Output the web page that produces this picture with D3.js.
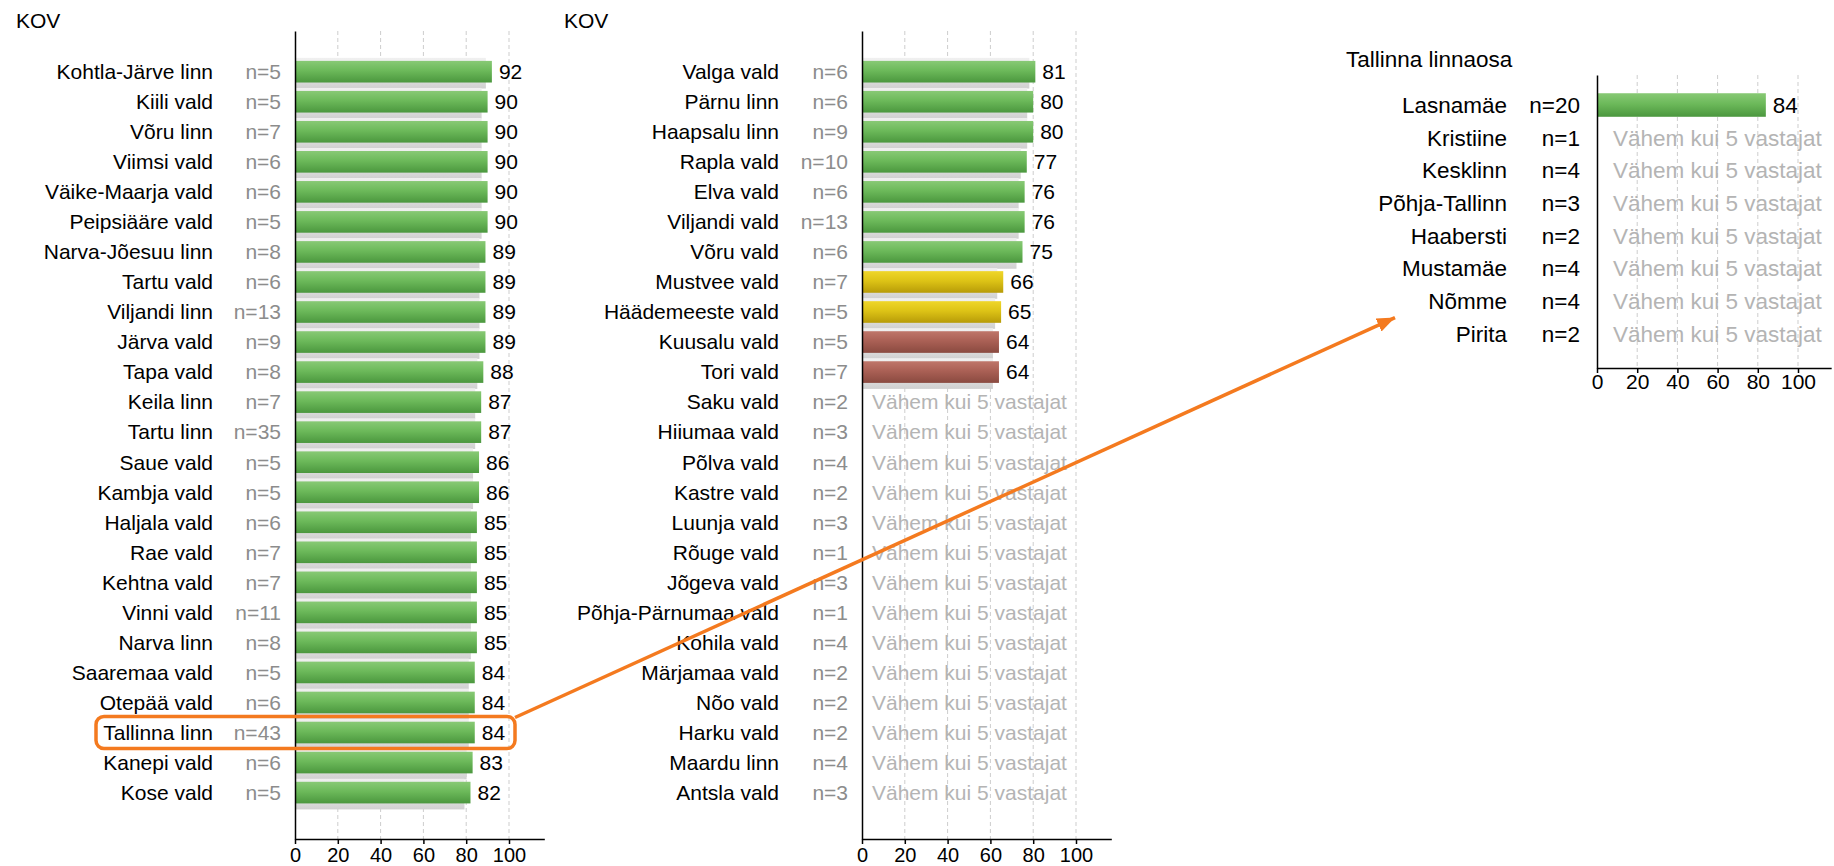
<!DOCTYPE html>
<html lang="et">
<head>
<meta charset="utf-8">
<title>KOV</title>
<script src="https://cdnjs.cloudflare.com/ajax/libs/d3/7.8.5/d3.min.js"></script>
<style>
  body { margin: 0; background: #fff; }
  svg { display: block; font-family: "Liberation Sans", Arial, sans-serif; }
  .grid { stroke: #cdcdcd; stroke-width: 1; stroke-dasharray: 4,3; }
  .axis path, .axis line { stroke: #000; stroke-width: 1.5; }
  .axis text { fill: #000; font-family: "Liberation Sans", Arial, sans-serif; }
</style>
</head>
<body>
<div id="chart"></div>
<script>
// --- data ---
const kovLeft = ['Kohtla-Järve linn', 'Kiili vald', 'Võru linn', 'Viimsi vald', 'Väike-Maarja vald',
  'Peipsiääre vald', 'Narva-Jõesuu linn', 'Tartu vald', 'Viljandi linn', 'Järva vald', 'Tapa vald',
  'Keila linn', 'Tartu linn', 'Saue vald', 'Kambja vald', 'Haljala vald', 'Rae vald', 'Kehtna vald',
  'Vinni vald', 'Narva linn', 'Saaremaa vald', 'Otepää vald', 'Tallinna linn', 'Kanepi vald', 'Kose vald'];
const nLeft = [5, 5, 7, 6, 6, 5, 8, 6, 13, 9, 8, 7, 35, 5, 5, 6, 7, 7, 11, 8, 5, 6, 43, 6, 5];
const valLeft = [92, 90, 90, 90, 90, 90, 89, 89, 89, 89, 88, 87, 87, 86, 86, 85, 85, 85, 85, 85, 84, 84, 84, 83, 82];

const kovMid = ['Valga vald', 'Pärnu linn', 'Haapsalu linn', 'Rapla vald', 'Elva vald', 'Viljandi vald',
  'Võru vald', 'Mustvee vald', 'Häädemeeste vald', 'Kuusalu vald', 'Tori vald', 'Saku vald',
  'Hiiumaa vald', 'Põlva vald', 'Kastre vald', 'Luunja vald', 'Rõuge vald', 'Jõgeva vald',
  'Põhja-Pärnumaa vald', 'Kohila vald', 'Märjamaa vald', 'Nõo vald', 'Harku vald', 'Maardu linn', 'Antsla vald'];
const nMid = [6, 6, 9, 10, 6, 13, 6, 7, 5, 5, 7, 2, 3, 4, 2, 3, 1, 3, 1, 4, 2, 2, 2, 4, 3];
const valMid = [81, 80, 80, 77, 76, 76, 75, 66, 65, 64, 64, null, null, null, null, null, null, null,
  null, null, null, null, null, null, null];

const linnaosa = ['Lasnamäe', 'Kristiine', 'Kesklinn', 'Põhja-Tallinn', 'Haabersti', 'Mustamäe', 'Nõmme', 'Pirita'];
const nLinnaosa = [20, 1, 4, 3, 2, 4, 4, 2];
const valLinnaosa = [84, null, null, null, null, null, null, null];

const xTicks = [0, 20, 40, 60, 80, 100];
const emptyText = 'Vähem kui 5 vastajat';

// --- chart ---
const width = 1834, height = 866;
const svg = d3.select('#chart').append('svg')
    .attr('width', width)
    .attr('height', height);

const defs = svg.append('defs');
function gradient(id, stops) {
    const lg = defs.append('linearGradient').attr('id', id)
        .attr('x1', 0).attr('y1', 0).attr('x2', 0).attr('y2', 1);
    stops.forEach(s => lg.append('stop').attr('offset', s[0]).attr('stop-color', s[1]));
}
gradient('gGreen', [[0, '#88c975'], [0.45, '#6cb95a'], [1, '#4b973e']]);
gradient('gYellow', [[0, '#efd62a'], [0.45, '#ddc316'], [1, '#b79b08']]);
gradient('gRed', [[0, '#bf766a'], [0.45, '#aa6055'], [1, '#8a4a40']]);
gradient('gShadow', [[0, '#f0f0f0'], [0.6, '#e2e2e2'], [1, '#d0d0d0']]);

function barFill(v) {
    if (v >= 70) return 'url(#gGreen)';
    if (v >= 65) return 'url(#gYellow)';
    return 'url(#gRed)';
}

function drawPanel(p) {
    const g = svg.append('g');
    const rows = p.names.map((name, i) => ({name: name, n: p.ns[i], v: p.values[i]}));

    const x = d3.scaleLinear().domain([0, 100]).range([p.x0, p.x100]);
    const xAxisScale = d3.scaleLinear().domain([0, 116.5]).range([p.x0, x(116.5)]);
    const y = d3.scaleBand().domain(p.names).range([p.top, p.bottom])
        .paddingOuter(p.padOuter).align(p.align);
    const barH = y.step() * 0.72;
    const cy = d => y(d) + y.bandwidth() / 2;

    g.append('text')
        .attr('x', p.titleX).attr('y', p.titleY).attr('dy', '0.35em')
        .style('font-size', p.font + 'px')
        .text(p.title);

    g.selectAll('.grid')
        .data(xTicks.filter(t => t > 0))
        .enter().append('line')
        .attr('class', 'grid')
        .attr('x1', d => x(d)).attr('x2', d => x(d))
        .attr('y1', p.top).attr('y2', p.bottom);

    const withValue = rows.filter(r => r.v != null);

    if (p.shadow) {
        g.selectAll('.shadow')
            .data(withValue)
            .enter().append('rect')
            .attr('class', 'shadow')
            .attr('x', x(0))
            .attr('y', r => cy(r.name) - barH / 2 - 3)
            .attr('width', r => x(r.v) - x(0) - 6)
            .attr('height', barH + 9)
            .attr('fill', 'url(#gShadow)');
    }

    g.selectAll('.bar')
        .data(withValue)
        .enter().append('rect')
        .attr('class', 'bar')
        .attr('x', x(0))
        .attr('y', r => cy(r.name) - barH / 2)
        .attr('width', r => x(r.v) - x(0))
        .attr('height', barH)
        .attr('fill', r => barFill(r.v));

    g.selectAll('.val')
        .data(withValue)
        .enter().append('text')
        .attr('x', r => x(r.v) + 7)
        .attr('y', r => cy(r.name))
        .attr('dy', '0.35em')
        .style('font-size', p.font + 'px')
        .text(r => r.v);

    g.selectAll('.empty')
        .data(rows.filter(r => r.v == null))
        .enter().append('text')
        .attr('x', p.x0 + p.emptyOff)
        .attr('y', r => cy(r.name))
        .attr('dy', '0.35em')
        .style('font-size', p.font + 'px')
        .style('fill', '#b4b4b4')
        .text(emptyText);

    g.selectAll('.name')
        .data(rows)
        .enter().append('text')
        .attr('x', p.x0 - p.nameOff)
        .attr('y', r => cy(r.name))
        .attr('dy', '0.35em')
        .attr('text-anchor', 'end')
        .style('font-size', p.font + 'px')
        .style('fill', '#000')
        .text(r => r.name);

    g.selectAll('.nlab')
        .data(rows)
        .enter().append('text')
        .attr('x', p.x0 - p.nOff)
        .attr('y', r => cy(r.name))
        .attr('dy', '0.35em')
        .attr('text-anchor', 'end')
        .style('font-size', p.font + 'px')
        .style('fill', p.nColor)
        .text(r => 'n=' + r.n);

    g.append('g')
        .attr('class', 'axis')
        .attr('transform', 'translate(' + p.x0 + ',0)')
        .call(d3.axisLeft(y).tickValues([]).tickSizeOuter(0));

    const xa = g.append('g')
        .attr('class', 'axis')
        .attr('transform', 'translate(0,' + p.bottom + ')')
        .call(d3.axisBottom(xAxisScale).tickValues(xTicks).tickSize(5).tickSizeOuter(0)
            .tickPadding(p.tickPad));
    xa.selectAll('text').style('font-size', p.tickFont + 'px');

    return {x: x, y: cy};
}

const left = drawPanel({
    names: kovLeft, ns: nLeft, values: valLeft,
    title: 'KOV', titleX: 16, titleY: 21,
    x0: 295, x100: 509, top: 31, bottom: 839, padOuter: 0.95, align: 0.45,
    font: 21, tickFont: 20, tickPad: 4, nameOff: 82, nOff: 14, emptyOff: 10,
    nColor: '#8c8c8c', shadow: true
});

drawPanel({
    names: kovMid, ns: nMid, values: valMid,
    title: 'KOV', titleX: 564, titleY: 21,
    x0: 862, x100: 1076, top: 31, bottom: 839, padOuter: 0.95, align: 0.45,
    font: 21, tickFont: 20, tickPad: 4, nameOff: 83, nOff: 14, emptyOff: 10,
    nColor: '#8c8c8c', shadow: true
});

const right = drawPanel({
    names: linnaosa, ns: nLinnaosa, values: valLinnaosa,
    title: 'Tallinna linnaosa', titleX: 1346, titleY: 59,
    x0: 1597, x100: 1798, top: 75, bottom: 368, padOuter: 0.48, align: 0.435,
    font: 22.5, tickFont: 21, tickPad: 1, nameOff: 90, nOff: 17, emptyOff: 16,
    nColor: '#000', shadow: false
});

// --- highlight Tallinna linn and point to its districts ---
const orange = '#f47a1f';
defs.append('marker')
    .attr('id', 'arrow')
    .attr('markerUnits', 'userSpaceOnUse')
    .attr('markerWidth', 20).attr('markerHeight', 16)
    .attr('refX', 18).attr('refY', 7)
    .attr('orient', 'auto')
    .append('path')
    .attr('d', 'M0,0 L18,7 L0,14 Z')
    .attr('fill', orange);

const boxCy = left.y('Tallinna linn');
const boxLeft = left.x(0) - 199, boxRight = left.x(100) + 6;
svg.append('rect')
    .attr('x', boxLeft).attr('y', boxCy - 16)
    .attr('width', boxRight - boxLeft).attr('height', 32)
    .attr('rx', 8).attr('ry', 8)
    .attr('fill', 'none')
    .attr('stroke', orange)
    .attr('stroke-width', 3.5);

const tipY = (right.y('Nõmme') + right.y('Pirita')) / 2;
svg.append('line')
    .attr('x1', boxRight).attr('y1', boxCy - 15)
    .attr('x2', right.x(0) - 202).attr('y2', tipY)
    .attr('stroke', orange)
    .attr('stroke-width', 3.5)
    .attr('marker-end', 'url(#arrow)');
</script>
</body>
</html>
